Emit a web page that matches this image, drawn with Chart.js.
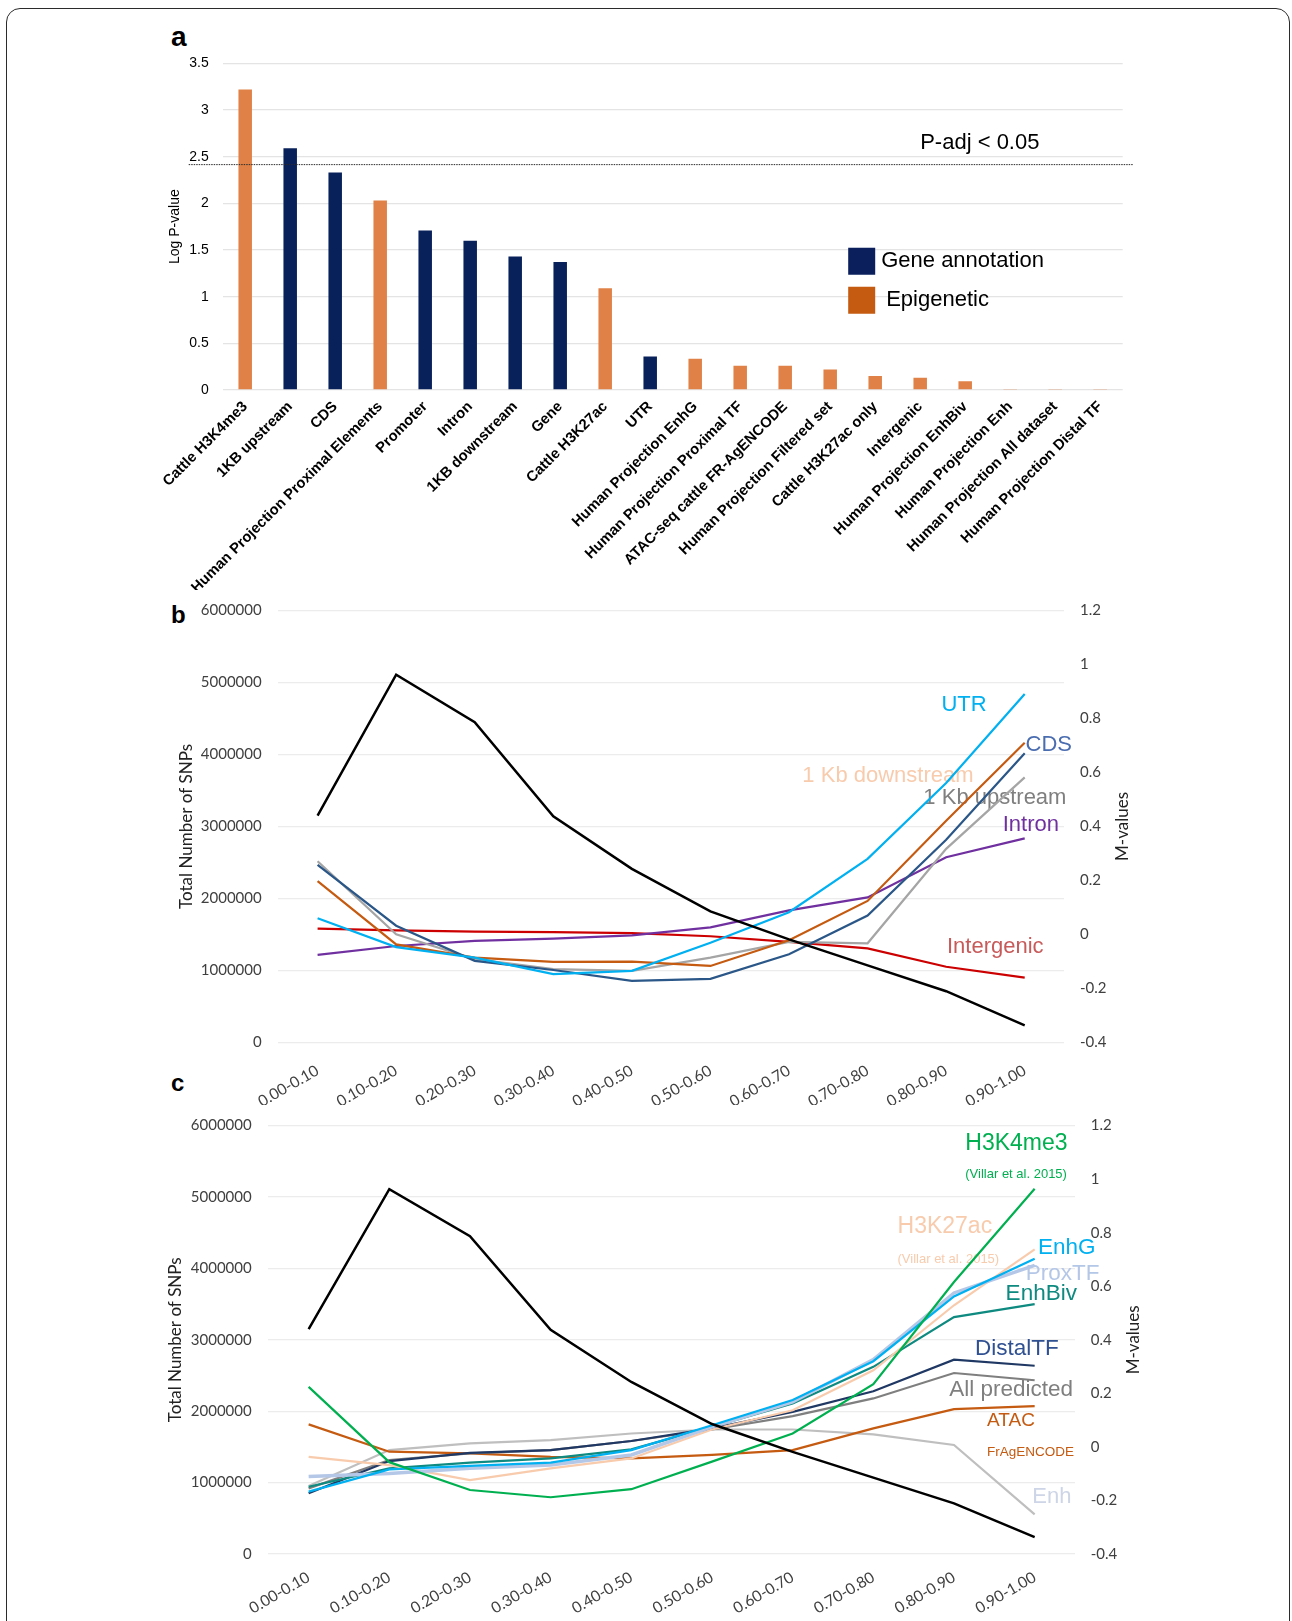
<!DOCTYPE html>
<html>
<head>
<meta charset="utf-8">
<title>Enrichment and M-value profiles</title>
<script src="https://cdn.jsdelivr.net/npm/chart.js@4.4.1/dist/chart.umd.min.js"></script>
<style>
  html, body { margin: 0; padding: 0; background: #ffffff; }
  body { width: 1292px; height: 1621px; position: relative; overflow: hidden; }
  .frame { position: absolute; left: 6px; top: 8px; width: 1284px; height: 1640px;
           border: 1.5px solid #2b2b2b; border-radius: 14px; box-sizing: border-box; }
  .panel { position: absolute; }
  .tag { position: absolute; font-family: "Liberation Sans", Arial, sans-serif; font-weight: bold; color: #000; }
</style>
</head>
<body>
<div class="frame"></div>
<div class="tag" style="left:171px;top:23px;font-size:28px;line-height:28px;">a</div>
<div class="tag" style="left:171px;top:603px;font-size:24px;line-height:24px;">b</div>
<div class="tag" style="left:171px;top:1071px;font-size:24px;line-height:24px;">c</div>

<div class="panel" style="left:140px;top:30px;width:1010px;height:560px;"><canvas id="chartA"></canvas></div>
<div class="panel" style="left:150px;top:585px;width:1000px;height:520px;"><canvas id="chartB"></canvas></div>
<div class="panel" style="left:150px;top:1100px;width:1000px;height:521px;"><canvas id="chartC"></canvas></div>

<script>
// ---------- Panel a: enrichment of annotation classes ----------
const enrichCategories = [
  'Cattle H3K4me3', '1KB upstream', 'CDS', 'Human Projection Proximal Elements', 'Promoter',
  'Intron', '1KB downstream', 'Gene', 'Cattle H3K27ac', 'UTR',
  'Human Projection EnhG', 'Human Projection Proximal TF', 'ATAC-seq cattle FR-AgENCODE',
  'Human Projection Filtered set', 'Cattle H3K27ac only', 'Intergenic',
  'Human Projection EnhBiv', 'Human Projection Enh', 'Human Projection All dataset',
  'Human Projection Distal TF'
];
const enrichLogP = [3.22, 2.59, 2.33, 2.03, 1.71, 1.60, 1.43, 1.37, 1.09, 0.36,
                    0.335, 0.26, 0.26, 0.22, 0.15, 0.13, 0.093, 0.012, 0.012, 0.012];
const enrichGroup = ['Epigenetic', 'Gene annotation', 'Gene annotation', 'Epigenetic', 'Gene annotation',
                     'Gene annotation', 'Gene annotation', 'Gene annotation', 'Epigenetic', 'Gene annotation',
                     'Epigenetic', 'Epigenetic', 'Epigenetic', 'Epigenetic', 'Epigenetic',
                     'Epigenetic', 'Epigenetic', 'Epigenetic', 'Epigenetic', 'Epigenetic'];
const legendGroups = ['Gene annotation', 'Epigenetic'];
const pAdjThreshold = 2.42;
const pAdjText = 'P-adj < 0.05';

// ---------- Panels b and c: SNP counts and M-values per MAF bin ----------
const mafBins = ['0.00-0.10', '0.10-0.20', '0.20-0.30', '0.30-0.40', '0.40-0.50',
                 '0.50-0.60', '0.60-0.70', '0.70-0.80', '0.80-0.90', '0.90-1.00'];
const totalSnps = [3150000, 5110000, 4450000, 3140000, 2410000, 1820000, 1430000, 1070000, 710000, 235000];

// panel b series (M-values)
const mUTR        = [0.060, -0.047, -0.086, -0.147, -0.135, -0.031, 0.082, 0.280, 0.561, 0.891];
const mCDS        = [0.258, 0.032, -0.098, -0.132, -0.172, -0.165, -0.074, 0.070, 0.351, 0.671];
const mDownstream = [0.197, -0.037, -0.086, -0.102, -0.101, -0.117, -0.022, 0.124, 0.421, 0.710];
const mUpstream   = [0.271, 0.000, -0.092, -0.129, -0.135, -0.086, -0.028, -0.033, 0.317, 0.582];
const mIntron     = [-0.076, -0.043, -0.024, -0.016, -0.004, 0.026, 0.089, 0.137, 0.286, 0.356];
const mIntergenic = [0.021, 0.015, 0.010, 0.008, 0.005, -0.007, -0.028, -0.052, -0.120, -0.160];

// panel c series (M-values)
const mH3K4me3  = [0.224, -0.057, -0.161, -0.188, -0.158, -0.055, 0.050, 0.234, 0.616, 0.964];
const mH3K27ac  = [-0.037, -0.068, -0.124, -0.080, -0.043, 0.065, 0.137, 0.286, 0.529, 0.738];
const mEnhG     = [-0.167, -0.084, -0.071, -0.059, -0.012, 0.081, 0.175, 0.320, 0.562, 0.703];
const mProxTF   = [-0.111, -0.099, -0.080, -0.068, -0.030, 0.075, 0.168, 0.326, 0.575, 0.678];
const mEnhBiv   = [-0.149, -0.080, -0.059, -0.043, -0.009, 0.075, 0.162, 0.299, 0.485, 0.533];
const mDistalTF = [-0.173, -0.053, -0.022, -0.012, 0.022, 0.069, 0.131, 0.208, 0.326, 0.303];
const mAllPred  = [-0.155, -0.049, -0.024, -0.012, 0.022, 0.065, 0.115, 0.181, 0.276, 0.249];
const mATAC     = [0.084, -0.018, -0.024, -0.037, -0.043, -0.030, -0.012, 0.069, 0.141, 0.152];
const mEnh      = [-0.146, -0.012, 0.013, 0.025, 0.050, 0.065, 0.065, 0.047, 0.007, -0.252];

// ---------- shared styling ----------
const fontArial = '"Liberation Sans", Arial, sans-serif';
const fontBody = 'Lato, Carlito, Calibri, sans-serif';
const groupColor = { 'Gene annotation': '#08215B', 'Epigenetic': '#E08247' };
const legendSwatch = { 'Gene annotation': '#0A1F5C', 'Epigenetic': '#C55A11' };

// Series name annotations: x given as a (fractional) bin index, y as an M-value.
const seriesTextB = [
  { text: 'UTR',             at: 7.94, m: 0.851,  color: '#00B0F0', size: 22 },
  { text: 'CDS',             at: 9.01, m: 0.702,  color: '#4A6DB0', size: 22 },
  { text: '1 Kb downstream', at: 6.17, m: 0.586,  color: '#F8CBAD', size: 22 },
  { text: '1 Kb upstream',   at: 7.71, m: 0.506,  color: '#7F7F7F', size: 22 },
  { text: 'Intron',          at: 8.72, m: 0.406,  color: '#7030A0', size: 22 },
  { text: 'Intergenic',      at: 8.01, m: -0.047, color: '#C85A5A', size: 22 }
];
const seriesTextC = [
  { text: 'H3K4me3',              at: 8.14, m: 1.134,  color: '#00B050', size: 23 },
  { text: '(Villar et al. 2015)', at: 8.14, m: 1.017,  color: '#00B050', size: 13 },
  { text: 'H3K27ac',              at: 7.30, m: 0.821,  color: '#F8CBAD', size: 23 },
  { text: '(Villar et al. 2015)', at: 7.30, m: 0.699,  color: '#F8CBAD', size: 13 },
  { text: 'EnhG',                 at: 9.04, m: 0.742,  color: '#00B0F0', size: 22.5 },
  { text: 'ProxTF',               at: 8.89, m: 0.647,  color: '#B4C7E7', size: 22.5 },
  { text: 'EnhBiv',               at: 8.64, m: 0.572,  color: '#0E8A80', size: 22.5 },
  { text: 'DistalTF',             at: 8.26, m: 0.367,  color: '#2F5091', size: 22.5 },
  { text: 'All predicted',        at: 7.94, m: 0.212,  color: '#7F7F7F', size: 22.5 },
  { text: 'ATAC',                 at: 8.41, m: 0.096,  color: '#C55A11', size: 19 },
  { text: 'FrAgENCODE',           at: 8.41, m: -0.020, color: '#C55A11', size: 13.5 },
  { text: 'Enh',                  at: 8.97, m: -0.186, color: '#CDD5E6', size: 22 }
];

Chart.defaults.animation = false;

// Threshold line, its caption and the group legend for panel a.
const enrichDecor = {
  id: 'enrichDecor',
  afterDatasetsDraw(chart) {
    const { ctx, chartArea, scales } = chart;
    const yPix = scales.y.getPixelForValue(pAdjThreshold);
    ctx.save();
    ctx.strokeStyle = '#2a2a2a';
    ctx.lineWidth = 1;
    ctx.setLineDash([1.5, 1]);
    ctx.beginPath();
    ctx.moveTo(chartArea.left - 34, yPix + 0.5);
    ctx.lineTo(chartArea.right + 10, yPix + 0.5);
    ctx.stroke();
    ctx.setLineDash([]);

    ctx.fillStyle = '#000';
    ctx.font = '22px ' + fontArial;
    ctx.textAlign = 'left';
    ctx.textBaseline = 'middle';
    ctx.fillText(pAdjText, scales.x.getPixelForValue(15), scales.y.getPixelForValue(2.65));

    const lx = scales.x.getPixelForValue(13.4);
    let ly = scales.y.getPixelForValue(1.524);
    const box = 27, rowGap = 39;
    legendGroups.forEach((g, i) => {
      ctx.fillStyle = legendSwatch[g];
      ctx.fillRect(lx, ly, box, box);
      ctx.fillStyle = '#000';
      ctx.font = '22px ' + fontArial;
      ctx.fillText(g, lx + box + (i === 0 ? 6 : 11), ly + box / 2);
      ly += rowGap;
    });
    ctx.restore();
  }
};

// Series names next to the lines, plus the right-hand axis title read bottom-to-top.
function seriesTextPlugin(items, rightTitleX) {
  return {
    id: 'seriesText',
    beforeDatasetsDraw(chart) {
      const { ctx, scales, chartArea } = chart;
      ctx.save();
      ctx.textAlign = 'left';
      ctx.textBaseline = 'middle';
      items.forEach(it => {
        ctx.font = it.size + 'px ' + fontArial;
        ctx.fillStyle = it.color;
        ctx.fillText(it.text, scales.x.getPixelForValue(it.at), scales.m.getPixelForValue(it.m));
      });
      ctx.translate(scales.m.right - rightTitleX, (chartArea.top + chartArea.bottom) / 2);
      ctx.rotate(-Math.PI / 2);
      ctx.textAlign = 'center';
      ctx.font = '17px ' + fontBody;
      ctx.fillStyle = '#222';
      ctx.fillText('M-values', 0, 0);
      ctx.restore();
    }
  };
}

new Chart(document.getElementById('chartA'), {
  type: 'bar',
  data: {
    labels: enrichCategories,
    datasets: [{
      data: enrichLogP,
      backgroundColor: enrichGroup.map(g => groupColor[g]),
      barPercentage: 0.3,
      categoryPercentage: 1
    }]
  },
  options: {
    responsive: true,
    maintainAspectRatio: false,
    layout: { padding: { top: 33.3, right: 27.3, left: 0, bottom: 0 } },
    plugins: { legend: { display: false }, tooltip: { enabled: false } },
    scales: {
      x: {
        grid: { display: false, drawTicks: false },
        border: { display: false },
        ticks: {
          autoSkip: false, minRotation: 45, maxRotation: 45, padding: 8,
          color: '#000', font: { family: fontArial, size: 14.8, weight: 'bold' }
        },
        afterFit: s => { s.height = 200; }
      },
      y: {
        min: 0, max: 3.5,
        ticks: { stepSize: 0.5, padding: 14, color: '#000', font: { family: fontArial, size: 14 },
                 callback: v => String(Math.round(v * 10) / 10) },
        grid: { color: '#E4E4E4', lineWidth: 1.3, drawTicks: false },
        border: { display: false },
        title: { display: true, text: 'Log P-value', color: '#000',
                 font: { family: fontArial, size: 14 }, padding: { top: 27, bottom: 0 } },
        afterFit: s => { s.width = 82.7; }
      }
    }
  },
  plugins: [enrichDecor]
});

function mafChart(id, lineSets, texts, geo) {
  return new Chart(document.getElementById(id), {
    type: 'line',
    data: {
      labels: mafBins,
      datasets: [
        { label: 'Total SNPs', data: totalSnps, yAxisID: 'y', borderColor: '#000000', borderWidth: 2.5 }
      ].concat(lineSets.map(s => ({
        label: s.label, data: s.data, yAxisID: 'm', borderColor: s.color, borderWidth: s.width || 2.2
      })))
    },
    options: {
      responsive: true,
      maintainAspectRatio: false,
      layout: { padding: { top: geo.top, right: 0, left: 0, bottom: 0 } },
      elements: { point: { radius: 0 }, line: { tension: 0, fill: false } },
      plugins: { legend: { display: false }, tooltip: { enabled: false } },
      scales: {
        x: {
          offset: true,
          grid: { display: false, drawTicks: false },
          border: { display: false },
          ticks: {
            autoSkip: false, minRotation: 30, maxRotation: 30, padding: geo.xPad,
            color: '#404040', font: { family: fontBody, size: 15.5 }
          },
          afterFit: s => { s.height = geo.xH; }
        },
        y: {
          position: 'left', min: 0, max: 6000000,
          ticks: { stepSize: 1000000, padding: 16.6, color: '#404040',
                   font: { family: fontBody, size: 15 }, callback: v => String(v) },
          grid: { color: '#ECECEC', lineWidth: 1.3, drawTicks: false },
          border: { display: false },
          title: { display: true, text: 'Total Number of SNPs', color: '#222',
                   font: { family: fontBody, size: 17 }, padding: { top: geo.lTitle, bottom: 0 } },
          afterFit: s => { s.width = geo.lW; }
        },
        m: {
          position: 'right', min: -0.4, max: 1.2,
          ticks: { stepSize: 0.2, padding: geo.rPad, color: '#404040',
                   font: { family: fontBody, size: 15 }, callback: v => String(Math.round(v * 10) / 10) },
          grid: { display: false, drawTicks: false },
          border: { display: false },
          afterFit: s => { s.width = geo.rW; }
        }
      }
    },
    plugins: [seriesTextPlugin(texts, geo.rTitle)]
  });
}

mafChart('chartB', [
  { label: 'UTR', data: mUTR, color: '#00B0F0' },
  { label: 'CDS', data: mCDS, color: '#2A5788' },
  { label: '1 Kb downstream', data: mDownstream, color: '#C55A11' },
  { label: '1 Kb upstream', data: mUpstream, color: '#A5A5A5' },
  { label: 'Intron', data: mIntron, color: '#7030A0' },
  { label: 'Intergenic', data: mIntergenic, color: '#CC0000' }
], seriesTextB, { top: 20.7, xH: 62.7, xPad: 19, lW: 128.3, rW: 86, rPad: 16, lTitle: 26.5, rTitle: 27 });

mafChart('chartC', [
  { label: 'H3K4me3', data: mH3K4me3, color: '#00B050' },
  { label: 'EnhG', data: mEnhG, color: '#00B0F0' },
  { label: 'ProxTF', data: mProxTF, color: '#B4C7E7', width: 3.5 },
  { label: 'H3K27ac', data: mH3K27ac, color: '#F8CBAD' },
  { label: 'EnhBiv', data: mEnhBiv, color: '#0E8A80' },
  { label: 'DistalTF', data: mDistalTF, color: '#1F3864' },
  { label: 'All predicted', data: mAllPred, color: '#7F7F7F' },
  { label: 'ATAC FrAgENCODE', data: mATAC, color: '#C55A11' },
  { label: 'Enh', data: mEnh, color: '#BFBFBF' }
], seriesTextC, { top: 25, xH: 67, xPad: 14, lW: 118.3, rW: 75, rPad: 15.7, lTitle: 15.8, rTitle: 16 });
</script>
</body>
</html>
